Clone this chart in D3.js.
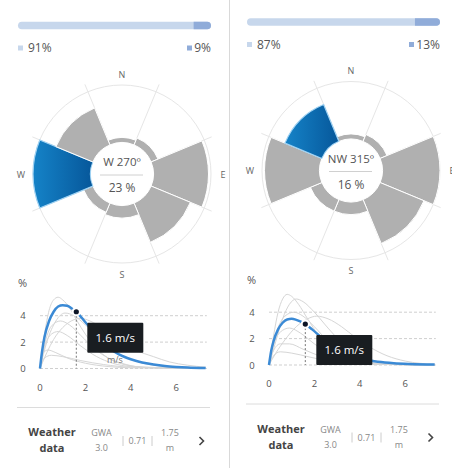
<!DOCTYPE html>
<html><head><meta charset="utf-8">
<script src="https://cdn.jsdelivr.net/npm/d3@7"></script>
<style>body{margin:0;background:#fff;font-family:"Open Sans",sans-serif}</style>
</head><body>
<svg width="452" height="468"></svg>
<script>
// wind rose directions
var directions = ["N", "NE", "E", "SE", "S", "SW", "W", "NW"];
var dirDegrees = [0, 45, 90, 135, 180, 225, 270, 315];
var roseLeft = [2, 3, 22, 17, 5, 4, 23, 16];
var roseRight = [2, 3, 23, 19, 5, 5, 22, 16];
var highlightLeft = "W";
var highlightRight = "NW";

var shareLeft = [91, 9];
var shareRight = [87, 13];

var speedTicks = [0, 2, 4, 6];
var pctTicks = [0, 2, 4];
var hoverSpeed = 1.6;

// speed distribution curves [m/s, %]
var blueLeft = [[0,0],[0.1,1.4],[0.2,2.4],[0.4,3.6],[0.6,4.3],[0.8,4.7],[1.0,4.8],[1.2,4.75],[1.4,4.55],[1.6,4.3],[2.0,3.5],[2.5,2.5],[3.0,1.6],[3.5,1.05],[4.0,0.7],[4.5,0.45],[5.0,0.3],[5.5,0.19],[6.0,0.12],[6.5,0.07],[7.3,0.03]];
var grayLeft = [
  [[0,0],[0.2,2.6],[0.4,4.4],[0.6,5.2],[0.8,5.4],[1.0,5.2],[1.3,4.6],[1.6,3.7],[2,2.6],[2.5,1.5],[3,0.8],[3.5,0.4],[4,0.2],[5,0.05],[7.3,0]],
  [[0,0],[0.3,1.2],[0.6,2.2],[1,3.1],[1.5,3.7],[1.8,3.8],[2.2,3.6],[2.8,3.0],[3.5,2.1],[4.2,1.4],[5,0.9],[5.7,0.5],[6.5,0.25],[7.3,0.1]],
  [[0,0],[0.2,1.8],[0.5,3.2],[0.9,3.6],[1.3,3.3],[1.8,2.5],[2.4,1.5],[3,0.8],[3.6,0.4],[4.5,0.1],[7.3,0]],
  [[0,0],[0.2,1.6],[0.5,2.6],[0.8,2.8],[1.2,2.5],[1.8,1.7],[2.5,0.9],[3.2,0.4],[4,0.15],[7.3,0]],
  [[0,0],[0.15,1.2],[0.35,1.4],[0.7,1.2],[1.2,0.8],[2,0.4],[3,0.15],[4,0.05],[7.3,0]],
  [[0,0],[0.2,0.8],[0.5,1.0],[1,0.9],[1.8,0.6],[2.8,0.3],[4,0.1],[7.3,0]],
  [[0,0],[0.3,2.0],[0.7,3.6],[1.1,4.2],[1.5,4.0],[2,3.3],[2.6,2.3],[3.2,1.4],[4,0.7],[4.8,0.3],[6,0.1],[7.3,0]]
];
var blueRight = [[0,0],[0.1,1.1],[0.2,1.8],[0.4,2.7],[0.6,3.2],[0.8,3.45],[1.0,3.5],[1.2,3.42],[1.4,3.28],[1.6,3.1],[1.9,2.7],[2.3,2.1],[2.8,1.45],[3.3,0.95],[3.8,0.6],[4.3,0.38],[4.8,0.25],[5.5,0.14],[6.2,0.08],[7.3,0.03]];
var grayRight = [
  [[0,0],[0.2,2.2],[0.4,4.0],[0.6,5.0],[0.8,5.35],[1.0,5.2],[1.3,4.6],[1.7,3.5],[2.2,2.2],[2.8,1.1],[3.4,0.5],[4,0.2],[5,0.05],[7.3,0]],
  [[0,0],[0.3,1.8],[0.6,3.5],[0.9,4.6],[1.2,5.0],[1.5,4.8],[2,4.0],[2.6,2.8],[3.2,1.7],[3.8,0.9],[4.5,0.4],[5.5,0.1],[7.3,0]],
  [[0,0],[0.3,0.9],[0.7,1.9],[1.2,2.9],[1.7,3.5],[2.1,3.7],[2.6,3.5],[3.2,2.9],[3.8,2.1],[4.5,1.3],[5.2,0.7],[6,0.3],[7.3,0.05]],
  [[0,0],[0.3,2.3],[0.7,3.7],[1.1,4.0],[1.5,3.7],[2,2.9],[2.6,1.8],[3.2,1.0],[4,0.4],[5,0.1],[7.3,0]],
  [[0,0],[0.2,1.1],[0.5,1.6],[0.9,1.6],[1.5,1.2],[2.2,0.7],[3,0.3],[4,0.1],[7.3,0]],
  [[0,0],[0.2,0.7],[0.5,1.0],[1,0.9],[1.8,0.6],[2.8,0.25],[4,0.08],[7.3,0]],
  [[0,0],[0.2,1.5],[0.5,2.5],[0.9,2.8],[1.4,2.4],[2,1.6],[2.7,0.8],[3.5,0.3],[4.5,0.1],[7.3,0]]
];

var weatherSource = ["GWA", "3.0"];
var weatherShear = "0.71";
var weatherHeight = ["1.75", "m"];

var svg = d3.select("svg");

svg.append("line")
  .attr("x1", 229.5).attr("x2", 229.5).attr("y1", 0).attr("y2", 468)
  .attr("stroke", "#d9d9d9");

function drawPanel(id, dx, dy, share, rose, highlight, blue, grays) {
  svg.append("clipPath").attr("id", "clip" + id)
    .append("rect").attr("x", 0).attr("y", -10).attr("width", id == 0 ? 226 : 240).attr("height", 490);

  var g = svg.append("g")
    .attr("transform", "translate(" + dx + "," + dy + ")")
    .attr("clip-path", "url(#clip" + id + ")");

  // share bar
  var bx = d3.scaleLinear().domain([0, 100]).range([18, 211]);
  g.append("rect").attr("x", bx(0)).attr("y", 21.7).attr("width", bx(100) - bx(0)).attr("height", 7.6)
    .attr("rx", 3.8).attr("fill", "#c7d7ec");
  g.append("path")
    .attr("d", "M" + bx(share[0]) + ",21.7 H" + (bx(100) - 3.8) + " a3.8,3.8 0 0 1 0,7.6 H" + bx(share[0]) + "Z")
    .attr("fill", "#90acd9");
  g.append("rect").attr("x", 18).attr("y", 45.5).attr("width", 5).attr("height", 5).attr("fill", "#c7d7ec");
  g.append("text").attr("x", 28).attr("y", 52).attr("font-size", 12).attr("fill", "#555").text(share[0] + "%");
  g.append("text").attr("x", 211).attr("y", 52).attr("font-size", 12).attr("fill", "#555")
    .attr("text-anchor", "end").text(share[1] + "%");
  var w2 = share[1] >= 10 ? 24 : 17;
  g.append("rect").attr("x", 211 - w2 - 7).attr("y", 45.5).attr("width", 5).attr("height", 5).attr("fill", "#90acd9");

  // wind rose
  var cx = 122, cy = 174, r0 = 31.5, R = 89;
  var rose_g = g.append("g").attr("transform", "translate(" + cx + "," + cy + ")");
  var rs = d3.scaleLinear().domain([0, d3.max(rose)]).range([r0, R]);
  var rad = Math.PI / 180;

  var grad = svg.append("defs").append("linearGradient").attr("id", "blueGrad" + id)
    .attr("x1", "0%").attr("x2", "100%").attr("y1", "0%").attr("y2", "0%");
  grad.append("stop").attr("offset", "0%").attr("stop-color", "#1583c8");
  grad.append("stop").attr("offset", "100%").attr("stop-color", "#06579a");

  rose_g.append("circle").attr("r", R).attr("fill", "none").attr("stroke", "#e6e6e6");
  dirDegrees.forEach(function(d) {
    var a = (d + 22.5) * rad;
    rose_g.append("line")
      .attr("x1", r0 * Math.sin(a)).attr("y1", -r0 * Math.cos(a))
      .attr("x2", 97 * Math.sin(a)).attr("y2", -97 * Math.cos(a))
      .attr("stroke", "#e6e6e6");
  });

  var arc = d3.arc();
  directions.forEach(function(name, i) {
    var hl = name == highlight;
    rose_g.append("path")
      .attr("d", arc({innerRadius: r0, outerRadius: rs(rose[i]),
        startAngle: (dirDegrees[i] - 22.5) * rad, endAngle: (dirDegrees[i] + 22.5) * rad}))
      .attr("fill", hl ? "url(#blueGrad" + id + ")" : "#b0b0b0")
      .attr("stroke", hl ? "#9fd2f3" : "#fff")
      .attr("stroke-width", hl ? 1.2 : 1);
  });
  rose_g.append("circle").attr("r", r0 - 0.5).attr("fill", "#fff");

  var hi = directions.indexOf(highlight);
  rose_g.append("text").attr("y", -8).attr("text-anchor", "middle").attr("font-size", 11.5)
    .attr("fill", "#555").text(highlight + " " + dirDegrees[hi] + "\u00ba");
  rose_g.append("line").attr("x1", -22).attr("x2", 21).attr("y1", 1).attr("y2", 1).attr("stroke", "#d0d0d0");
  rose_g.append("text").attr("y", 18).attr("text-anchor", "middle").attr("font-size", 12)
    .attr("fill", "#555").text(rose[hi] + " %");

  [["N", 0], ["E", 90], ["S", 180], ["W", 270]].forEach(function(c) {
    var a = c[1] * rad;
    rose_g.append("text")
      .attr("x", 101 * Math.sin(a)).attr("y", -100 * Math.cos(a) + 3.5)
      .attr("text-anchor", "middle").attr("font-size", 9).attr("fill", "#666").text(c[0]);
  });

  // speed distribution
  var x = d3.scaleLinear().domain([0, 7.35]).range([40, 206.8]);
  var y = d3.scaleLinear().domain([0, 4]).range([368.5, 315.7]);

  g.append("text").attr("x", 18).attr("y", 287).attr("font-size", 11).attr("fill", "#555").text("%");
  pctTicks.forEach(function(t) {
    g.append("line").attr("x1", x(0)).attr("x2", x(7.35)).attr("y1", y(t)).attr("y2", y(t))
      .attr("stroke", "#cfcfcf").attr("stroke-dasharray", "3,2");
    g.append("text").attr("x", 23).attr("y", y(t) + 3.5).attr("text-anchor", "middle")
      .attr("font-size", 9.5).attr("fill", "#555").text(t);
  });
  speedTicks.forEach(function(t) {
    g.append("text").attr("x", x(t)).attr("y", 390.5).attr("text-anchor", "middle")
      .attr("font-size", 9.5).attr("fill", "#555").text(t);
  });

  var line = d3.line().x(function(d) { return x(d[0]); }).y(function(d) { return y(d[1]); })
    .curve(d3.curveMonotoneX);
  grays.forEach(function(c) {
    g.append("path").attr("d", line(c)).attr("fill", "none").attr("stroke", "#d6d6d6").attr("stroke-width", 1);
  });
  g.append("path").attr("d", line(blue)).attr("fill", "none").attr("stroke", "#3b8ad5").attr("stroke-width", 2.5);

  g.append("text").attr("x", x(3.3)).attr("y", 363).attr("text-anchor", "middle")
    .attr("font-size", 9).attr("fill", "#777").text("m/s");

  var hv = blue.find(function(d) { return d[0] == hoverSpeed; });
  var px = x(hv[0]), py = y(hv[1]);
  g.append("line").attr("x1", px).attr("x2", px).attr("y1", py).attr("y2", y(0))
    .attr("stroke", "#777").attr("stroke-dasharray", "2,2");
  g.append("circle").attr("cx", px).attr("cy", py).attr("r", 3.6)
    .attr("fill", "#0d1526").attr("stroke", "#fff").attr("stroke-width", 2);
  g.append("rect").attr("x", px + 11).attr("y", py + 11).attr("width", 56).attr("height", 30)
    .attr("rx", 1).attr("fill", "#191d21");
  g.append("text").attr("x", px + 39).attr("y", py + 30).attr("text-anchor", "middle")
    .attr("font-size", 11.5).attr("fill", "#fff").text(hoverSpeed + " m/s");

  // weather data footer
  g.append("line").attr("x1", 17).attr("x2", 210).attr("y1", 407.5).attr("y2", 407.5).attr("stroke", "#dcdcdc");
  g.append("text").attr("x", 52).attr("y", 436).attr("text-anchor", "middle").attr("font-size", 11)
    .attr("font-weight", "bold").attr("fill", "#444").text("Weather");
  g.append("text").attr("x", 52).attr("y", 452).attr("text-anchor", "middle").attr("font-size", 11)
    .attr("font-weight", "bold").attr("fill", "#444").text("data");
  g.append("text").attr("x", 101.5).attr("y", 436).attr("text-anchor", "middle").attr("font-size", 9)
    .attr("fill", "#888").text(weatherSource[0]);
  g.append("text").attr("x", 101.5).attr("y", 451).attr("text-anchor", "middle").attr("font-size", 9)
    .attr("fill", "#888").text(weatherSource[1]);
  g.append("text").attr("x", 137.5).attr("y", 444).attr("text-anchor", "middle").attr("font-size", 9)
    .attr("fill", "#888").text(weatherShear);
  [123, 152].forEach(function(sx) {
    g.append("line").attr("x1", sx).attr("x2", sx).attr("y1", 436).attr("y2", 446).attr("stroke", "#ccc");
  });
  g.append("text").attr("x", 170).attr("y", 436).attr("text-anchor", "middle").attr("font-size", 9)
    .attr("fill", "#888").text(weatherHeight[0]);
  g.append("text").attr("x", 170).attr("y", 451).attr("text-anchor", "middle").attr("font-size", 9)
    .attr("fill", "#888").text(weatherHeight[1]);
  g.append("path").attr("d", "M199.5,437 L203.5,441 L199.5,445").attr("fill", "none")
    .attr("stroke", "#444").attr("stroke-width", 1.6);
}

drawPanel(0, 0, 0, shareLeft, roseLeft, highlightLeft, blueLeft, grayLeft);
drawPanel(1, 229, -3.5, shareRight, roseRight, highlightRight, blueRight, grayRight);
</script>
</body></html>
